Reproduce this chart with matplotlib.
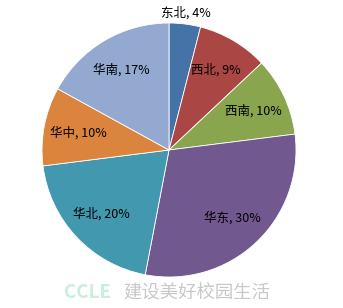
import numpy as np
import matplotlib
matplotlib.use("Agg")
import matplotlib.pyplot as plt

plt.rcParams['font.family'] = ['Noto Sans CJK SC', 'DejaVu Sans']

regions = ["东北", "西北", "西南", "华东", "华北", "华中", "华南"]
shares = [4, 9, 10, 30, 20, 10, 17]
colors = ["#4572A7", "#AA4643", "#89A54E", "#71588F", "#4198AF", "#DB843D", "#93A9CF"]

W, H = 343, 308
fig = plt.figure(figsize=(W / 100, H / 100), dpi=100)
fig.patch.set_facecolor("white")

cx, cy, R = 169, 150, 127
ax = fig.add_axes([(cx - R) / W, (H - cy - R) / H, 2 * R / W, 2 * R / H])

wedges, _ = ax.pie(shares, colors=colors, startangle=90, counterclock=False,
                   radius=1.0,
                   wedgeprops=dict(edgecolor="white", linewidth=0.6))
ax.set_xlim(-1, 1)
ax.set_ylim(-1, 1)
ax.set_aspect("equal")
ax.axis("off")

# data labels: inside the slice, small slices pushed outside
for w, name, v in zip(wedges, regions, shares):
    mid = np.deg2rad((w.theta1 + w.theta2) / 2)
    r = 1.09 if v < 5 else 0.73
    ax.text(r * np.cos(mid), r * np.sin(mid), f"{name}, {v}%",
            ha="center", va="center", fontsize=9, color="black", clip_on=False)

# footer mark
fig.text(64 / W, (H - 293) / H, "CCLE", fontsize=13.5, color="#c6f0db",
         ha="left", va="center", fontweight="bold")
fig.text(123 / W, (H - 293) / H, "建设美好校园生活", fontsize=13.2, color="#c8c8c8",
         ha="left", va="center")

fig.savefig("out.png", dpi=100)
